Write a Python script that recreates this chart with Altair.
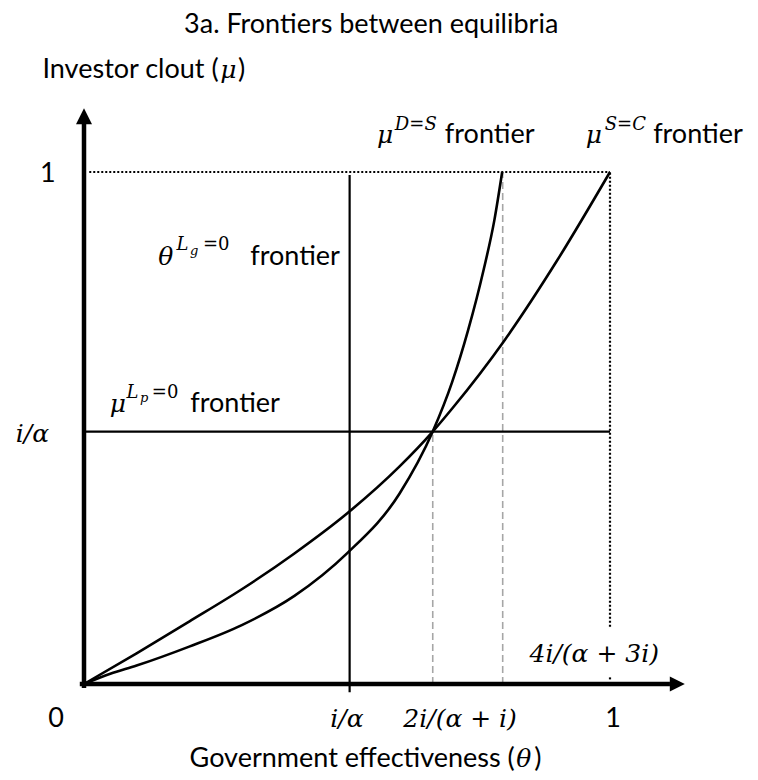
import altair as alt
import pandas as pd

# ---- frontier curves: government effectiveness (theta) vs investor clout (mu) ----
ds_theta = [0, 0.05, 0.10, 0.20, 0.30, 0.40, 0.50, 0.60, 0.663, 0.70, 0.73, 0.76, 0.78, 0.795]
ds_mu = [0, 0.020, 0.036, 0.073, 0.115, 0.172, 0.255, 0.372, 0.493, 0.590, 0.690, 0.810, 0.905, 1.0]
sc_theta = [0, 0.10, 0.20, 0.30, 0.40, 0.50, 0.60, 0.663, 0.70, 0.80, 0.90, 1.0]
sc_mu = [0, 0.060, 0.122, 0.185, 0.255, 0.333, 0.425, 0.493, 0.538, 0.672, 0.828, 1.0]

# ---- reference levels ----
i_alpha_theta = 0.505   # theta = i/alpha
i_alpha_mu = 0.493      # mu = i/alpha
cross_theta = 0.663     # 2i/(alpha+i)
ds_top_theta = 0.796    # 4i/(alpha+3i)

# ---- tick labels ----
x_tick_text = ["0", "i/α", "2i/(α + i)", "1"]
x_tick_theta = [-0.053, 0.500, 0.715, 1.006]
y_tick_text = ["1", "i/α"]
y_tick_theta = [-0.069, -0.098]
y_tick_mu = [0.981, 0.473]

SANS = "Lato"
MATH = "DejaVu Serif"
SANS_SIZE = 27
MATH_SIZE = 25

xs = alt.Scale(domain=[0, 1], nice=False, zero=False)
ys = alt.Scale(domain=[0, 1], nice=False, zero=False)


def X(field="theta"):
    return alt.X(f"{field}:Q", scale=xs, axis=None)


def Y(field="mu"):
    return alt.Y(f"{field}:Q", scale=ys, axis=None)


def segments(rows, **mark):
    df = pd.DataFrame(rows, columns=["t0", "m0", "t1", "m1"])
    return alt.Chart(df).mark_rule(**mark).encode(
        x=X("t0"), x2="t1:Q", y=Y("m0"), y2="m1:Q"
    )


def texts(rows, font, size, style="normal", align="left"):
    df = pd.DataFrame(rows, columns=["label", "theta", "mu"])
    return alt.Chart(df).mark_text(
        font=font, fontSize=size, fontStyle=style, align=align,
        baseline="alphabetic", color="black"
    ).encode(x=X(), y=Y(), text="label:N")


# curves
curve_df = pd.concat([
    pd.DataFrame({"theta": ds_theta, "mu": ds_mu, "series": "D=S"}),
    pd.DataFrame({"theta": sc_theta, "mu": sc_mu, "series": "S=C"}),
])
curves = alt.Chart(curve_df).mark_line(
    interpolate="monotone", color="black", strokeWidth=2.6
).encode(x=X(), y=Y(), detail="series:N", order="theta:Q")

# grey dashed guides
guides = segments(
    [(cross_theta, 0, cross_theta, i_alpha_mu), (ds_top_theta, 0, ds_top_theta, 1)],
    color="#a6a6a6", strokeWidth=1.6, strokeDash=[7, 4]
)

# dotted box at mu = 1 and theta = 1
dotted = segments(
    [(0.01, 1, 1, 1), (1, 0.112, 1, 1), (1, 0.009, 1, 0.015)],
    color="black", strokeWidth=2.2, strokeDash=[2, 2]
)

# frontier lines at i/alpha
frontiers = segments(
    [(i_alpha_theta, -0.016, i_alpha_theta, 0.994), (0, i_alpha_mu, 1, i_alpha_mu)],
    color="black", strokeWidth=2.2
)

# axes with arrow heads
axes = segments(
    [(0, -0.008, 0, 1.094), (-0.008, 0, 1.114, 0)],
    color="black", strokeWidth=4.5
)
up_head = alt.Chart(pd.DataFrame({"theta": [0], "mu": [1.109]})).mark_point(
    shape="M-1,1L1,1L0,-1Z", size=256, filled=True, color="black", opacity=1
).encode(x=X(), y=Y())
right_head = alt.Chart(pd.DataFrame({"theta": [1.128], "mu": [0]})).mark_point(
    shape="M-1,-1L1,0L-1,1Z", size=225, filled=True, color="black", opacity=1
).encode(x=X(), y=Y())

# titles (the symbol sits between an opening part set flush right and a closing bracket)
title = texts([("3a. Frontiers between equilibria", 0.546, 1.271)], SANS, SANS_SIZE, align="center")
y_title_open = texts([("Investor clout (", 0.256, 1.183)], SANS, SANS_SIZE, align="right")
y_title_sym = texts([("μ", 0.259, 1.183)], MATH, MATH_SIZE, style="italic")
y_title_close = texts([(")", 0.293, 1.183)], SANS, SANS_SIZE)
x_title_open = texts([("Government effectiveness (", 0.819, -0.162)], SANS, SANS_SIZE, align="right")
x_title_sym = texts([("θ", 0.822, -0.162)], MATH, MATH_SIZE, style="italic")
x_title_close = texts([(")", 0.856, -0.162)], SANS, SANS_SIZE)

# tick labels
x_ticks_plain = texts(
    [(x_tick_text[i], x_tick_theta[i], -0.084) for i in (0, 3)], SANS, SANS_SIZE, align="center"
)
x_ticks_math = texts(
    [(x_tick_text[i], x_tick_theta[i], -0.084) for i in (1, 2)]
    + [("4i/(α + 3i)", 0.970, 0.042)],
    MATH, MATH_SIZE, style="italic", align="center"
)
y_tick_plain = texts([(y_tick_text[0], y_tick_theta[0], y_tick_mu[0])], SANS, SANS_SIZE, align="center")
y_tick_math = texts([(y_tick_text[1], y_tick_theta[1], y_tick_mu[1])], MATH, MATH_SIZE, style="italic", align="center")

# frontier labels
lbl_word = texts(
    [("frontier", 0.686, 1.056), ("frontier", 1.082, 1.056),
     ("frontier", 0.316, 0.818), ("frontier", 0.202, 0.532)],
    SANS, SANS_SIZE
)
lbl_sym = texts(
    [("μ", 0.557, 1.056), ("μ", 0.954, 1.056), ("θ", 0.141, 0.818), ("μ", 0.049, 0.532)],
    MATH, MATH_SIZE, style="italic"
)
lbl_sup = texts(
    [("D=S", 0.591, 1.082), ("S=C", 0.990, 1.082), ("L", 0.176, 0.848), ("L", 0.081, 0.559)],
    MATH, 18, style="italic"
)
lbl_sup_plain = texts([("=0", 0.226, 0.848), ("=0", 0.129, 0.559)], MATH, 18)
lbl_sub = texts([("g", 0.2015, 0.838), ("p", 0.1065, 0.551)], MATH, 13, style="italic")

chart = alt.layer(
    guides, dotted, frontiers, curves, axes, up_head, right_head,
    title, y_title_open, y_title_sym, y_title_close,
    x_title_open, x_title_sym, x_title_close,
    x_ticks_plain, x_ticks_math, y_tick_plain, y_tick_math,
    lbl_word, lbl_sym, lbl_sup, lbl_sup_plain, lbl_sub,
).properties(
    width=526, height=512,
    autosize=alt.AutoSizeParams(type="none"),
    padding={"left": 84, "top": 172, "right": 148, "bottom": 96},
    background="white",
).configure_view(stroke=None)

chart.save("out.html", embed_options={"renderer": "svg", "actions": False})
